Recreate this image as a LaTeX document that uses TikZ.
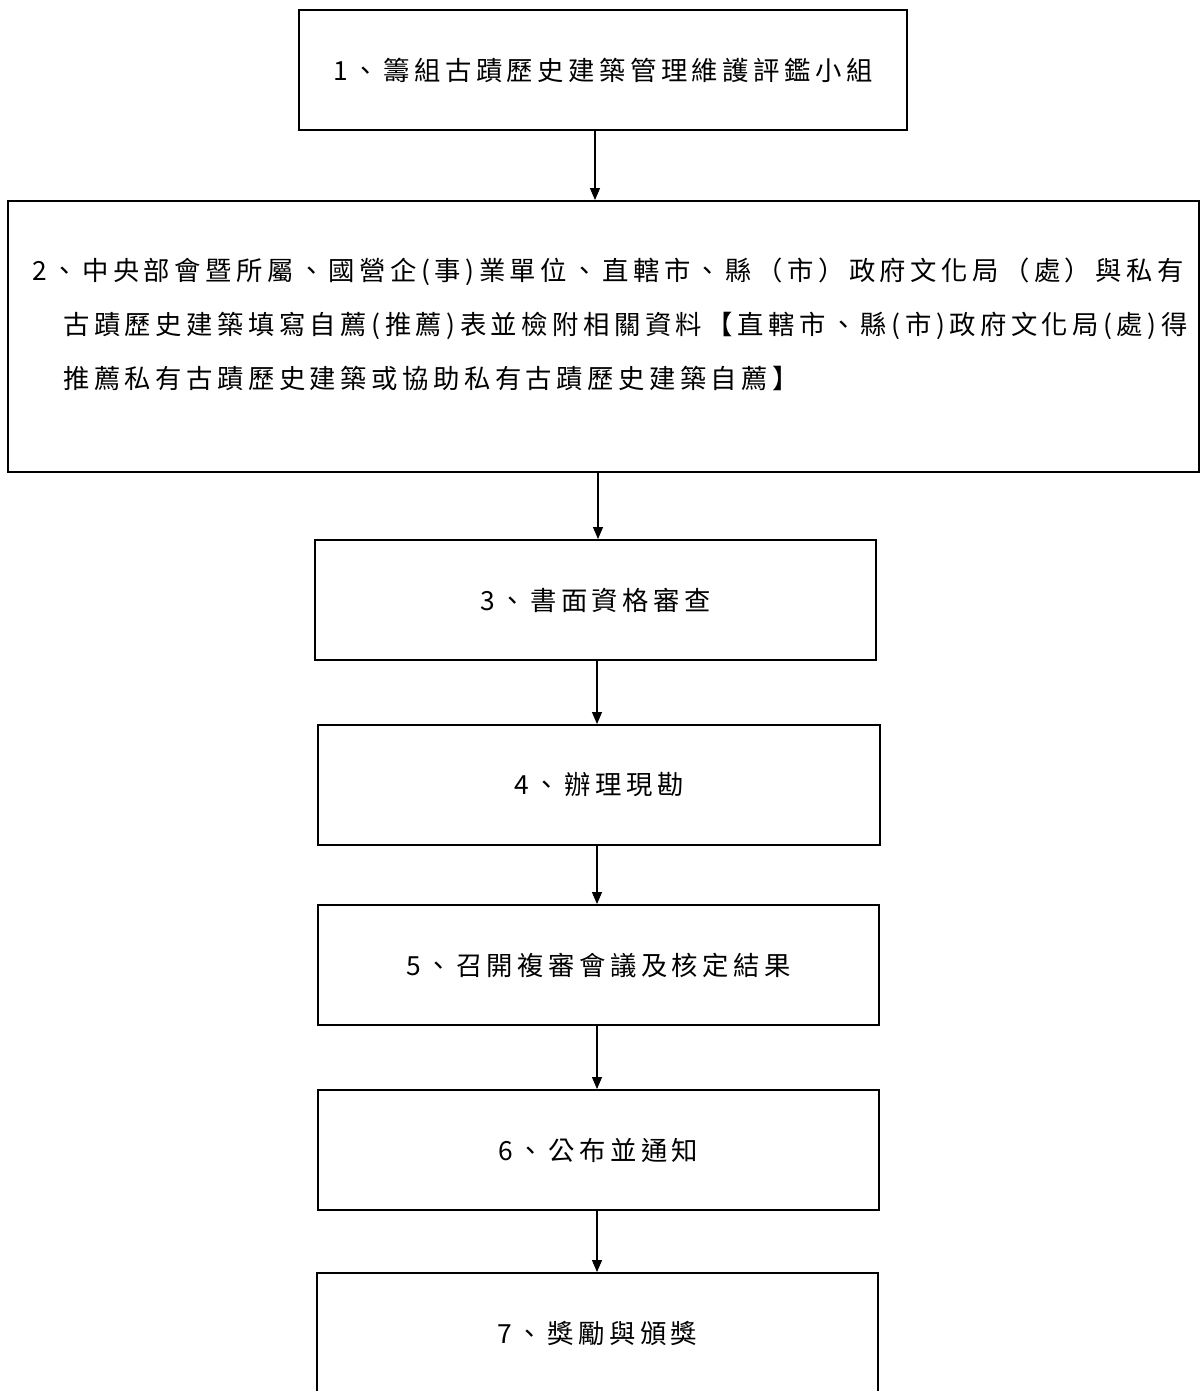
\documentclass[tikz,border=0pt]{standalone}
\usepackage{fontspec}
\newfontfamily\cjk[LetterSpace=17]{Noto Sans CJK TC}
\usetikzlibrary{arrows.meta}
\begin{document}
\begin{tikzpicture}[x=0.02cm,y=-0.02cm,
  box/.style={draw=black,line width=1.1pt,rectangle,inner sep=0pt,minimum height=2.4cm,
    font=\cjk\fontsize{15}{30.7}\selectfont},
  txt/.style={inner sep=0pt,align=left,font=\cjk\fontsize{15}{30.7}\selectfont},
  arr/.style={draw=black,line width=0.6pt,-{Triangle[length=0.24cm,width=0.2cm]}}]
\clip (0,0) rectangle (1200,1391);
\fill[white] (0,0) rectangle (1200,1391);
\node[box,minimum width=12.16cm] (b1) at (603,70) {1、籌組古蹟歷史建築管理維護評鑑小組};
\node[box,minimum width=23.82cm,minimum height=5.42cm] (b2) at (603.5,336.5) {};
\node[txt,anchor=west] (t2) at (32,324) {2、中央部會暨所屬、國營企(事)業單位、直轄市、縣（市）政府文化局（處）與私有\\
\hspace*{0.62cm}古蹟歷史建築填寫自薦(推薦)表並檢附相關資料【直轄市、縣(市)政府文化局(處)得\\
\hspace*{0.62cm}推薦私有古蹟歷史建築或協助私有古蹟歷史建築自薦】};
\node[box,minimum width=11.22cm] (b3) at (595.5,600) {3、書面資格審查};
\node[box,minimum width=11.24cm] (b4) at (599,785) {4、辦理現勘};
\node[box,minimum width=11.22cm] (b5) at (598.5,965) {5、召開複審會議及核定結果};
\node[box,minimum width=11.22cm] (b6) at (598.5,1150) {6、公布並通知};
\node[box,minimum width=11.22cm] (b7) at (597.5,1333) {7、獎勵與頒獎};
\draw[arr] ([xshift=-0.16cm]b1.south) -- ([xshift=-0.16cm]b1.south |- b2.north);
\draw[arr] ([xshift=-0.11cm]b2.south) -- ([xshift=-0.11cm]b2.south |- b3.north);
\draw[arr] ([xshift=0.03cm]b3.south) -- ([xshift=0.03cm]b3.south |- b4.north);
\draw[arr] ([xshift=-0.04cm]b4.south) -- ([xshift=-0.04cm]b4.south |- b5.north);
\draw[arr] ([xshift=-0.03cm]b5.south) -- ([xshift=-0.03cm]b5.south |- b6.north);
\draw[arr] ([xshift=-0.03cm]b6.south) -- ([xshift=-0.03cm]b6.south |- b7.north);
\end{tikzpicture}
\end{document}
